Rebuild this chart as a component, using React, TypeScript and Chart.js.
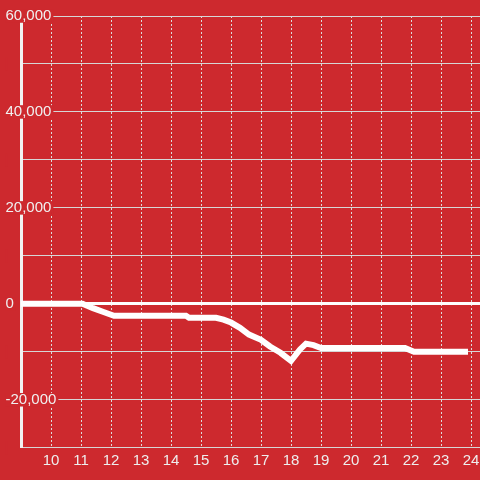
import React, { useEffect, useRef } from "react";
import { Chart, registerables } from "chart.js";

Chart.register(...registerables);

// Time of day (hours) and running value
const hours = [9, 11.05, 11.4, 11.75, 12.1, 14.5, 14.6, 15.5, 15.75, 16.0, 16.3, 16.6, 17.0, 17.3, 17.65, 18.0, 18.3, 18.5, 18.75, 19.0, 21.8, 22.1, 23.9];
const values = [0, 0, -900, -1700, -2500, -2500, -2900, -2900, -3300, -3900, -5000, -6400, -7500, -8900, -10200, -11900, -9500, -8300, -8600, -9200, -9200, -10000, -10000];

const xTicks = [10, 11, 12, 13, 14, 15, 16, 17, 18, 19, 20, 21, 22, 23, 24];
const yTicks = [-30000, -20000, -10000, 0, 10000, 20000, 30000, 40000, 50000, 60000];
const yLabelled = [-20000, 0, 20000, 40000, 60000];

const RED = "#cd292e";
const FONT = "'Liberation Sans', Arial, Helvetica, sans-serif";

export default function App() {
  const ref = useRef<HTMLCanvasElement | null>(null);

  useEffect(() => {
    const canvas = ref.current;
    if (!canvas) return;
    const chart = new Chart(canvas, {
      type: "line",
      data: {
        datasets: [
          {
            data: hours.map((h, i) => ({ x: h, y: values[i] })),
            borderColor: "#ffffff",
            borderWidth: 6,
            pointRadius: 0,
            tension: 0,
            fill: false,
          },
        ],
      },
      options: {
        responsive: false,
        animation: false,
        events: [],
        layout: { padding: { left: 21, top: 16, right: 0, bottom: 6 } },
        plugins: { legend: { display: false }, tooltip: { enabled: false } },
        scales: {
          x: {
            type: "linear",
            min: 9,
            max: 9 + 459 / 30,
            afterBuildTicks: (axis: any) => {
              axis.ticks = xTicks.map((v) => ({ value: v }));
            },
            grid: { color: "#dcdcdc", lineWidth: 1, drawTicks: false },
            border: { display: false, dash: [2, 2] },
            ticks: {
              autoSkip: false,
              maxRotation: 0,
              padding: 0,
              color: "#eeeeee",
              font: { family: FONT, size: 15, lineHeight: 1.75 },
              callback: (v: any) => String(v),
            },
          },
          y: {
            type: "linear",
            min: -30000,
            max: 60000,
            afterBuildTicks: (axis: any) => {
              axis.ticks = yTicks.map((v) => ({ value: v }));
            },
            afterFit: (axis: any) => {
              axis.width = 0;
              axis.paddingTop = 0;
              axis.paddingBottom = 0;
            },
            grid: {
              drawTicks: false,
              color: (ctx: any) => (ctx.tick && ctx.tick.value === 0 ? "#ffffff" : "#d6d6d6"),
              lineWidth: (ctx: any) => (ctx.tick && ctx.tick.value === 0 ? 3 : 1),
            },
            border: { display: true, color: "#f2f2f2", width: 3 },
            ticks: {
              autoSkip: false,
              mirror: true,
              padding: -15.5,
              crossAlign: "near",
              color: "#f0f0f0",
              font: { family: FONT, size: 15, lineHeight: 0.9 },
              showLabelBackdrop: true,
              backdropColor: RED,
              backdropPadding: { left: 0, right: 2, top: 0, bottom: 0 },
              callback: (v: any) =>
                yLabelled.includes(Number(v)) ? Number(v).toLocaleString("en-US") : "",
            },
          },
        },
      },
    } as any);
    return () => chart.destroy();
  }, []);

  return (
    <div style={{ position: "fixed", left: 0, top: 0, width: 480, height: 480, background: RED }}>
      <canvas ref={ref} width={480} height={480} style={{ display: "block" }} />
    </div>
  );
}
